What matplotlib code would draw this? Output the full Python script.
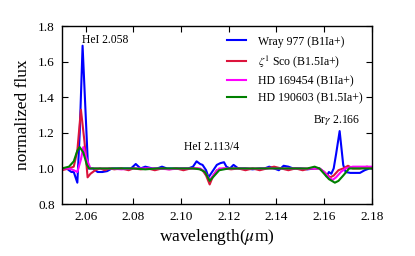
import matplotlib
matplotlib.use("Agg")
import matplotlib.pyplot as plt

plt.rcParams['font.family'] = ['Liberation Serif', 'DejaVu Serif']
plt.rcParams['mathtext.fontset'] = 'stix'

wl_wray = [2.050,2.052,2.054,2.055,2.0565,2.0575,2.0587,2.0600,2.0610,2.063,2.065,2.067,2.069,2.071,2.074,2.077,2.079,2.081,2.083,2.085,2.088,2.090,2.092,2.094,2.097,2.100,2.103,2.105,2.1065,2.108,2.109,2.1105,2.1115,2.113,2.115,2.1165,2.118,2.119,2.1205,2.122,2.124,2.127,2.130,2.133,2.135,2.137,2.139,2.141,2.143,2.145,2.147,2.150,2.153,2.156,2.158,2.160,2.161,2.162,2.163,2.164,2.165,2.1665,2.168,2.169,2.171,2.173,2.175,2.177,2.179,2.180]
fx_wray = [1.00,1.00,0.98,0.98,0.92,1.20,1.69,1.30,1.00,1.00,0.98,0.98,0.985,1.00,1.00,1.00,1.00,1.025,1.00,1.01,1.00,1.00,1.01,1.00,1.00,1.00,1.00,1.01,1.04,1.025,1.02,0.99,0.95,0.98,1.02,1.03,1.035,1.01,1.00,1.02,1.00,1.00,0.995,1.00,1.00,1.01,1.00,0.99,1.015,1.01,1.00,1.00,0.995,1.00,1.00,0.98,0.955,0.98,0.97,1.00,1.08,1.21,1.02,0.98,0.975,0.975,0.975,0.99,1.00,1.00]

wl_zeta = [2.050,2.053,2.055,2.0565,2.058,2.0595,2.0608,2.062,2.064,2.066,2.068,2.070,2.072,2.075,2.078,2.080,2.083,2.086,2.089,2.092,2.095,2.098,2.101,2.104,2.107,2.109,2.1105,2.112,2.1135,2.115,2.118,2.121,2.124,2.127,2.130,2.133,2.136,2.139,2.142,2.145,2.148,2.151,2.154,2.156,2.158,2.160,2.1625,2.164,2.166,2.168,2.170,2.172,2.175,2.178,2.180]
fx_zeta = [0.99,1.00,1.01,1.10,1.33,1.15,0.95,0.97,0.99,1.00,0.99,1.00,0.995,1.00,0.99,1.00,0.995,1.00,0.99,1.00,0.995,1.00,0.99,1.00,1.00,0.99,0.96,0.91,0.96,0.99,1.00,0.995,1.00,0.99,1.00,0.99,1.00,1.01,1.00,0.99,1.00,0.99,1.00,1.00,1.00,0.98,0.95,0.96,0.99,1.00,1.015,1.00,1.00,1.01,1.00]

wl_hd169 = [2.050,2.053,2.055,2.0565,2.058,2.059,2.0605,2.062,2.065,2.070,2.075,2.080,2.085,2.090,2.095,2.100,2.105,2.108,2.110,2.112,2.114,2.116,2.120,2.125,2.130,2.135,2.140,2.145,2.150,2.155,2.158,2.160,2.162,2.1635,2.165,2.167,2.169,2.172,2.175,2.180]
fx_hd169 = [1.00,1.00,0.99,0.98,1.05,1.12,1.05,1.00,1.00,1.00,0.995,1.00,1.00,1.00,0.995,1.00,1.00,1.00,0.98,0.935,0.97,1.00,1.00,1.00,1.00,1.00,1.00,1.00,1.00,1.00,1.00,0.98,0.95,0.935,0.95,0.98,1.00,1.01,1.01,1.01]

wl_hd190 = [2.050,2.053,2.055,2.0565,2.0575,2.059,2.0605,2.0615,2.065,2.070,2.075,2.080,2.085,2.090,2.095,2.100,2.105,2.108,2.110,2.112,2.114,2.116,2.120,2.125,2.130,2.135,2.140,2.145,2.150,2.153,2.156,2.158,2.160,2.162,2.1645,2.166,2.168,2.1705,2.173,2.176,2.180]
fx_hd190 = [1.00,1.01,1.04,1.10,1.12,1.09,1.02,1.00,1.00,1.00,1.00,1.00,0.995,1.00,1.00,1.00,1.00,0.995,0.98,0.93,0.96,0.99,1.00,1.00,1.00,1.00,1.00,1.00,1.00,1.00,1.01,1.00,0.97,0.94,0.92,0.93,0.96,1.00,1.00,1.00,1.00]

labels = ['Wray 977 (B1Ia+)', r'$\zeta^1$ Sco (B1.5Ia+)', 'HD 169454 (B1Ia+)', 'HD 190603 (B1.5Ia+)']
colors = ['#0000ff', '#dc143c', '#ff00ff', '#008000']

line_labels = ['HeI 2.058', 'HeI 2.113/4', r'Br$\gamma$ 2.166']
line_pos = [(2.0682, 1.72), (2.1127, 1.12), (2.1652, 1.27)]

xticks = [2.06, 2.08, 2.10, 2.12, 2.14, 2.16, 2.18]
yticks = [0.8, 1.0, 1.2, 1.4, 1.6, 1.8]

fig = plt.figure(figsize=(4.15, 2.56), dpi=100)
ax = fig.add_axes([0.149, 0.203, 0.747, 0.695])

series = [(wl_wray, fx_wray), (wl_zeta, fx_zeta), (wl_hd169, fx_hd169), (wl_hd190, fx_hd190)]
for (x, y), lab, c in zip(series, labels, colors):
    ax.plot(x, y, color=c, lw=1.5, label=lab)

for t, (x, y) in zip(line_labels, line_pos):
    ax.text(x, y, t, ha='center', va='center', fontsize=8.4)

ax.set_xlim(2.05, 2.18)
ax.set_ylim(0.8, 1.8)
ax.set_xticks(xticks)
ax.set_xticklabels([f'{v:.2f}' for v in xticks])
ax.set_yticks(yticks)
ax.set_yticklabels([f'{v:.1f}' for v in yticks])
ax.tick_params(direction='in', top=True, right=True, labelsize=9.5, length=4, width=0.8, pad=5)
for s in ax.spines.values():
    s.set_linewidth(1.0)
ax.set_xlabel(r'wavelength($\mu$m)', fontsize=12.5, labelpad=3)
ax.set_ylabel('normalized flux', fontsize=12.5, labelpad=5)
ax.legend(loc='upper right', frameon=False, fontsize=8.5, handlelength=1.6, handletextpad=1.0,
          borderaxespad=0.4, labelspacing=0.45)

fig.savefig('out.png', dpi=100)
